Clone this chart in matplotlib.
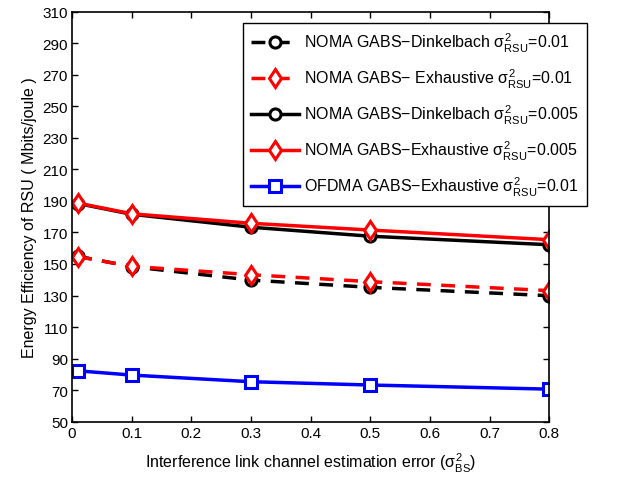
import matplotlib
matplotlib.use("Agg")
import matplotlib.pyplot as plt

plt.rcParams['font.family'] = ['Liberation Sans', 'DejaVu Sans']
plt.rcParams['mathtext.fontset'] = 'custom'
plt.rcParams['mathtext.rm'] = 'Liberation Sans'
plt.rcParams['mathtext.it'] = 'Liberation Sans'
plt.rcParams['mathtext.bf'] = 'Liberation Sans:bold'

# data
err = [0.01, 0.1, 0.3, 0.5, 0.8]
noma_dink_001 = [154.9, 148.3, 139.8, 135.2, 129.9]
noma_exh_001 = [154.6, 148.5, 143.2, 138.8, 133.1]
noma_dink_0005 = [188.3, 181.5, 173.3, 167.6, 162.2]
noma_exh_0005 = [188.6, 181.8, 175.8, 171.5, 165.4]
ofdma_exh_001 = [82.3, 79.6, 75.4, 73.3, 70.7]

labels = [
    "NOMA GABS\u2212Dinkelbach $\\sigma^2_{\\mathrm{RSU}}$=0.01",
    "NOMA GABS\u2212 Exhaustive $\\sigma^2_{\\mathrm{RSU}}$=0.01",
    "NOMA GABS\u2212Dinkelbach $\\sigma^2_{\\mathrm{RSU}}$=0.005",
    "NOMA GABS\u2212Exhaustive $\\sigma^2_{\\mathrm{RSU}}$=0.005",
    "OFDMA GABS\u2212Exhaustive $\\sigma^2_{\\mathrm{RSU}}$=0.01",
]
yticks = list(range(50, 311, 20))
xticks = [0, 0.1, 0.2, 0.3, 0.4, 0.5, 0.6, 0.7, 0.8]

fig = plt.figure(figsize=(6.38, 4.81), dpi=100)
ax = fig.add_axes([0.113, 0.121, 0.748, 0.853])

lw = 2.5
ms = 8
mew = 2.2
dash = (4, 3)
ax.plot(err, noma_dink_001, '--', color='k', lw=lw, dashes=dash, marker='o', ms=ms, mew=mew,
        mfc='white', mec='k', label=labels[0])
ax.plot(err, noma_exh_001, '--', color='r', lw=lw, dashes=dash, marker='d', ms=ms + 1.5, mew=mew,
        mfc='white', mec='r', label=labels[1])
ax.plot(err, noma_dink_0005, '-', color='k', lw=lw, marker='o', ms=ms, mew=mew,
        mfc='white', mec='k', label=labels[2])
ax.plot(err, noma_exh_0005, '-', color='r', lw=lw, marker='d', ms=ms + 1.5, mew=mew,
        mfc='white', mec='r', label=labels[3])
ax.plot(err, ofdma_exh_001, '-', color='b', lw=lw, marker='s', ms=ms, mew=mew,
        mfc='white', mec='b', label=labels[4])

ax.set_xlim(0, 0.8)
ax.set_ylim(50, 310)
ax.set_xticks(xticks)
ax.set_xticklabels(["0", "0.1", "0.2", "0.3", "0.4", "0.5", "0.6", "0.7", "0.8"])
ax.set_yticks(yticks)
ax.tick_params(direction='in', top=True, right=True, labelsize=11, length=4, width=1, pad=3)
for s in ax.spines.values():
    s.set_linewidth(1.2)

ax.set_xlabel("Interference link channel estimation error ($\\sigma^2_{\\mathrm{BS}}$)", fontsize=11.5, labelpad=8)
ax.set_ylabel("Energy Efficiency of RSU ( Mbits/joule )", fontsize=11.5, labelpad=4)

leg = ax.legend(loc='upper left', bbox_to_anchor=(243 / 638, 1 - 24 / 481),
                bbox_transform=fig.transFigure, fontsize=11.5, frameon=True, fancybox=False,
                edgecolor='k', framealpha=1, handlelength=3.0, labelspacing=0.8,
                borderpad=0.5, handletextpad=0.35, borderaxespad=0)
leg.get_frame().set_linewidth(1.0)

fig.savefig("out.png", dpi=100)
